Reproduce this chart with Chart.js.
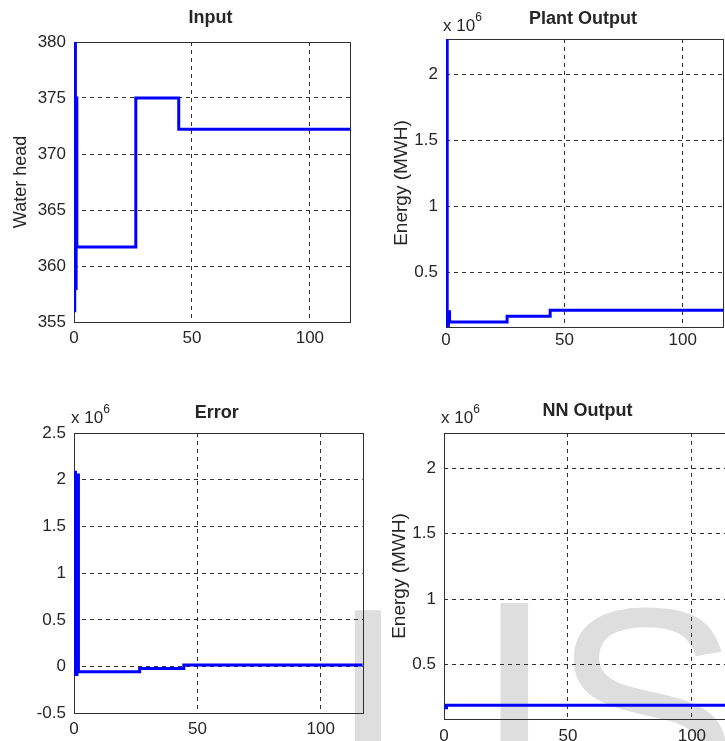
<!DOCTYPE html>
<html><head><meta charset="utf-8">
<script src="https://cdn.jsdelivr.net/npm/chart.js@4/dist/chart.umd.min.js"></script>
<style>
html,body{margin:0;padding:0;background:#fff;width:725px;height:741px;overflow:hidden;position:relative;}
.panel{position:absolute;}
.wm{position:absolute;top:566px;font-family:'Liberation Sans',Arial,sans-serif;font-size:280px;line-height:280px;color:#dedede;white-space:nowrap;}
</style></head><body>
<span class="wm" style="left:329px">I</span><span class="wm" style="left:473px;top:570px;font-family:'DejaVu Sans'">J</span><span class="wm" style="left:552px">SER</span>
<div class="panel" style="left:0;top:0;width:362px;height:360px"><canvas id="c1"></canvas></div>
<div class="panel" style="left:362px;top:0;width:373px;height:360px"><canvas id="c2"></canvas></div>
<div class="panel" style="left:0;top:370px;width:375px;height:371px"><canvas id="c3"></canvas></div>
<div class="panel" style="left:370px;top:370px;width:380px;height:371px"><canvas id="c4"></canvas></div>
<script>
// ---- data ----
const inputTime   = [0, 0.3, 0.6, 0.9, 1.2, 26.2, 44.4, 117];
const inputHead   = [356, 380, 358, 375, 361.7, 375, 372.2, 372.2];
const plantTime   = [0, 0.5, 1.0, 1.5, 25.8, 44, 117];
const plantEnergy = [2270000, 84000, 200000, 122000, 165000, 211000, 211000];
const errorTime   = [0, 0.6, 1.2, 1.8, 26.6, 44.5, 117];
const errorEnergy = [2080000, -85000, 2050000, -56000, -20000, 18000, 18000];
const nnTime      = [0, 1, 117];
const nnEnergy    = [170000, 189000, 189000];
const xTicks      = [0, 50, 100];
const inputTicks  = [355, 360, 365, 370, 375, 380];
const energyTicks = [500000, 1000000, 1500000, 2000000];
const errorTicks  = [-500000, 0, 500000, 1000000, 1500000, 2000000, 2500000];
const titles      = ['Input', 'Plant Output', 'Error', 'NN Output'];
const yLabels     = ['Water head', 'Energy (MWH)', '', 'Energy (MWH)'];

Chart.defaults.font.family = "'Liberation Sans', Arial, sans-serif";
Chart.defaults.color = '#262626';

const TXT = '#262626';
const boxPlugin = {
  id: 'box',
  beforeDatasetsDraw(chart) {
    const a = chart.chartArea, c = chart.ctx;
    c.save();
    c.strokeStyle = '#303030'; c.lineWidth = 1; c.setLineDash([]);
    c.strokeRect(Math.round(a.left) + 0.5, Math.round(a.top) + 0.5, Math.round(a.right - a.left), Math.round(a.bottom - a.top));
    c.restore();
  },
  afterDraw(chart, args, opts) {
    const a = chart.chartArea, c = chart.ctx;
    c.save();
    c.fillStyle = TXT;
    c.font = "bold 18px 'Liberation Sans', Arial, sans-serif";
    c.textAlign = 'center'; c.textBaseline = 'alphabetic';
    c.fillText(opts.title, (a.left + a.right) / 2 - 1.5, a.top - opts.titleGap);
    if (opts.exponent) {
      c.textAlign = 'left';
      c.font = "17px 'Liberation Sans', Arial, sans-serif";
      const x0 = a.left - 3, y0 = a.top - opts.expGap;
      c.fillText('x 10', x0, y0);
      const w = c.measureText('x 10').width;
      c.font = "12px 'Liberation Sans', Arial, sans-serif";
      c.fillText('6', x0 + w, y0 - 10);
    }
    c.restore();
  }
};

function pts(xs, ys) { return xs.map((x, i) => ({x: x, y: ys[i]})); }

function makeChart(id, p) {
  return new Chart(document.getElementById(id), {
    type: 'line',
    data: { datasets: [{ data: pts(p.xs, p.ys), borderColor: '#0000ff', borderWidth: 3, pointRadius: 0, stepped: true, fill: false, tension: 0 }] },
    options: {
      responsive: true, maintainAspectRatio: false, animation: false, devicePixelRatio: 1,
      layout: { padding: { left: 0, top: p.top, right: p.right, bottom: 0 } },
      plugins: { legend: { display: false }, tooltip: { enabled: false }, title: { display: false },
                 box: { title: p.title, titleGap: p.titleGap, exponent: p.exponent, expGap: p.expGap } },
      scales: {
        x: {
          type: 'linear', min: 0, max: 117,
          afterBuildTicks: s => { s.ticks = xTicks.map(v => ({value: v})); },
          afterFit: s => { s.height = p.xh; },
          grid: { color: '#303030', lineWidth: 1, drawTicks: false },
          border: { display: false, dash: [4, 4] },
          ticks: { padding: p.xpad, color: TXT, font: { size: 17 }, maxRotation: 0, autoSkip: false }
        },
        y: {
          type: 'linear', min: p.ymin, max: p.ymax,
          afterBuildTicks: s => { s.ticks = p.yticks.map(v => ({value: v})); },
          afterFit: s => { s.width = p.yw; },
          grid: { color: '#303030', lineWidth: 1, drawTicks: false },
          border: { display: false, dash: [4, 4] },
          ticks: { padding: 8, color: TXT, font: { size: 17 }, autoSkip: false,
                   callback: v => p.scale ? String(+(v / p.scale).toFixed(2)) : String(v) },
          title: { display: !!p.ylabel, text: p.ylabel, color: TXT, font: { size: p.ylabelSize },
                   padding: { top: p.ylabelPad, bottom: 0 } }
        }
      }
    },
    plugins: [boxPlugin]
  });
}

makeChart('c1', { xs: inputTime, ys: inputHead, ymin: 355, ymax: 380, yticks: inputTicks, scale: 0,
  top: 42, right: 12, yw: 74, xh: 38, xpad: 6, title: titles[0], titleGap: 19, exponent: false,
  ylabel: yLabels[0], ylabelSize: 18, ylabelPad: 10 });
makeChart('c2', { xs: plantTime, ys: plantEnergy, ymin: 84000, ymax: 2270000, yticks: energyTicks, scale: 1e6,
  top: 39, right: 12, yw: 84, xh: 33, xpad: 3, title: titles[1], titleGap: 15, exponent: true, expGap: 8,
  ylabel: yLabels[1], ylabelSize: 19, ylabelPad: 28 });
makeChart('c3', { xs: errorTime, ys: errorEnergy, ymin: -500000, ymax: 2500000, yticks: errorTicks, scale: 1e6,
  top: 63, right: 12.3, yw: 74, xh: 27.7, xpad: 6, title: titles[2], titleGap: 15, exponent: true, expGap: 10,
  ylabel: yLabels[2], ylabelSize: 18, ylabelPad: 0 });
makeChart('c4', { xs: nnTime, ys: nnEnergy, ymin: 84000, ymax: 2270000, yticks: energyTicks, scale: 1e6,
  top: 63, right: 16, yw: 74, xh: 22, xpad: 7, title: titles[3], titleGap: 17, exponent: true, expGap: 10,
  ylabel: yLabels[3], ylabelSize: 19, ylabelPad: 18 });
</script>
</body></html>
